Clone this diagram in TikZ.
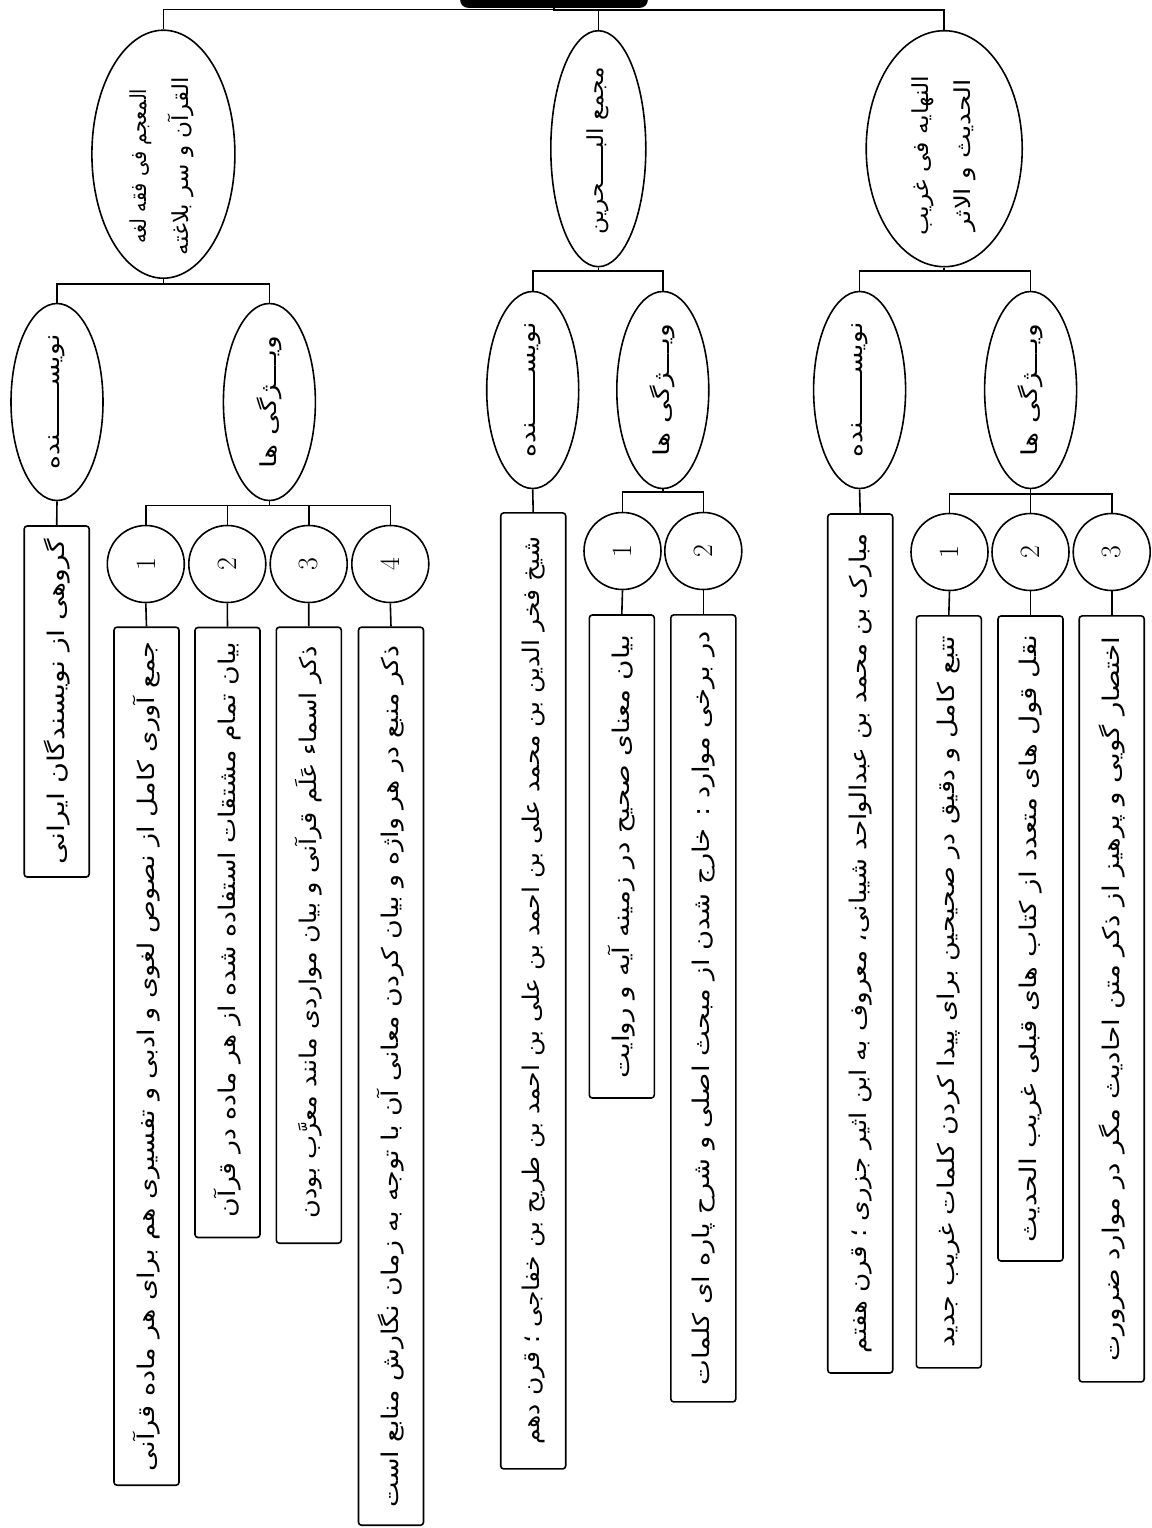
\documentclass[tikz,border=0pt]{standalone}
\usepackage{fontspec}
\usepackage{graphicx}
\newfontfamily\arabicfont[Script=Arabic]{DejaVu Sans}
\TeXXeTstate=1
\usetikzlibrary{shapes.geometric}
\newlength\arw
% #2 is given as \beginR ... \endR
\newcommand\fitar[2]{\settowidth\arw{{\arabicfont #2}}\pgfmathsetmacro\arf{#1/\the\arw}\scalebox{\arf}[1]{{\arabicfont #2}}}
\newcommand\fsT{\fontsize{23}{40}\selectfont}
\newcommand\fsE{\fontsize{22}{42}\selectfont}
\newcommand\fsN{\fontsize{28}{30}\selectfont}
\tikzset{
  conn/.style={line width=1.6pt},
  rootbox/.style={draw, fill=black, rounded corners=7pt, line width=1.6pt},
  ell/.style={draw, ellipse, line width=1.6pt, inner sep=0pt},
  numell/.style={draw, ellipse, line width=1.6pt, inner sep=0pt, minimum width=77pt, minimum height=77pt},
  tbox/.style={draw, rectangle, rounded corners=3pt, line width=1.6pt, inner sep=0pt, minimum width=65pt},
  lbl/.style={rotate=90, inner sep=0pt, font=\fsT, align=center},
  elbl/.style={rotate=90, inner sep=0pt, font=\fsE, align=center},
  nlbl/.style={rotate=90, inner sep=0pt, font=\fsN}
}
\begin{document}
\begin{tikzpicture}[x=1pt,y=-1pt]
\useasboundingbox (0,0) rectangle (1151,1528);
% root
\node[rootbox, minimum width=186pt, minimum height=60pt] (root) at (554,-23) {};
% level 1
\node[ell, minimum width=143pt, minimum height=248pt] (A) at (163.4,154.2) {};
\node[ell, minimum width=95pt, minimum height=236pt] (B) at (598.3,148.7) {};
\node[ell, minimum width=156pt, minimum height=236pt] (C) at (944.2,148.7) {};
\node[elbl] (At) at ([xshift=-2pt,yshift=-12pt]A.center) {\fitar{155pt}{\beginR المعجم فی فقه لغه\endR}\\\fitar{178pt}{\beginR القرآن و سر بلاغته\endR}};
\node[elbl] (Bt) at ([yshift=-2pt]B.center) {\fitar{168pt}{\beginR مجمع البـــــحرین\endR}};
\node[elbl] (Ct) at ([yshift=-7pt]C.center) {\fitar{160pt}{\beginR النهایه فی غریب\endR}\\\fitar{152pt}{\beginR الحدیث و الاثر\endR}};
% level 2
\node[ell, minimum width=92pt, minimum height=197pt] (A1) at (57,402) {};
\node[ell, minimum width=92pt, minimum height=197pt] (A2) at (269.4,402) {};
\node[ell, minimum width=92pt, minimum height=197pt] (B1) at (532.7,390) {};
\node[ell, minimum width=92pt, minimum height=197pt] (B2) at (662.8,390) {};
\node[ell, minimum width=92pt, minimum height=197pt] (C1) at (859.6,390) {};
\node[ell, minimum width=92pt, minimum height=197pt] (C2) at (1030.6,390) {};
\node[elbl] (A1t) at (A1.center) {\fitar{135pt}{\beginR نویســــــنده\endR}};
\node[elbl] (A2t) at (A2.center) {\fitar{133pt}{\beginR ویـــژگی ها\endR}};
\node[elbl] (B1t) at (B1.center) {\fitar{135pt}{\beginR نویســــــنده\endR}};
\node[elbl] (B2t) at (B2.center) {\fitar{133pt}{\beginR ویـــژگی ها\endR}};
\node[elbl] (C1t) at (C1.center) {\fitar{135pt}{\beginR نویســــــنده\endR}};
\node[elbl] (C2t) at (C2.center) {\fitar{133pt}{\beginR ویـــژگی ها\endR}};
% number circles
\node[numell] (An1) at (145.8,564) {};
\node[numell] (An2) at (227.3,564) {};
\node[numell] (An3) at (308.7,564) {};
\node[numell] (An4) at (390.3,564) {};
\node[numell] (Bn1) at (622.5,551) {};
\node[numell] (Bn2) at (703.3,551) {};
\node[numell] (Cn1) at (949.5,552) {};
\node[numell] (Cn2) at (1030.5,552) {};
\node[numell] (Cn3) at (1111.7,552) {};
\foreach \n/\d in {An1/1,An2/2,An3/3,An4/4,Bn1/1,Bn2/2,Cn1/1,Cn2/2,Cn3/3}
  \node[nlbl] (\n-t) at (\n.center) {\d};
% boxes
\node[tbox, minimum height=351pt] (Aa) at (56.7,701.5) {};
\node[tbox, minimum height=858pt] (Ab1) at (146.5,1056.2) {};
\node[tbox, minimum height=610pt] (Ab2) at (227.5,932.5) {};
\node[tbox, minimum height=616pt] (Ab3) at (308.8,935.2) {};
\node[tbox, minimum height=898pt] (Ab4) at (391,1076.2) {};
\node[tbox, minimum height=956pt] (Ba) at (533.2,990.9) {};
\node[tbox, minimum height=483pt] (Bb1) at (621.8,856.5) {};
\node[tbox, minimum height=787pt] (Bb2) at (703.3,1008.4) {};
\node[tbox, minimum height=859pt] (Ca) at (860.2,943.5) {};
\node[tbox, minimum height=752pt] (Cb1) at (948.8,991.9) {};
\node[tbox, minimum height=645pt] (Cb2) at (1030.5,938.5) {};
\node[tbox, minimum height=766pt] (Cb3) at (1111.7,998.9) {};
\node[lbl] (Aat) at (Aa.center) {\fitar{325pt}{\beginR گروهی از نویسندگان ایرانی\endR}};
\node[lbl] (Ab1t) at (Ab1.center) {\fitar{830pt}{\beginR جمع آوری کامل از نصوص لغوی و ادبی و تفسیری هم برای هر ماده قرآنی\endR}};
\node[lbl] (Ab2t) at ([yshift=3pt]Ab2.center) {\fitar{575pt}{\beginR بیان تمام مشتقات استفاده شده از هر ماده در قرآن\endR}};
\node[lbl] (Ab3t) at ([yshift=3pt]Ab3.center) {\fitar{572pt}{\beginR ذکر اسماء عَلَم قرآنی و بیان مواردی مانند معرَّب بودن\endR}};
\node[lbl] (Ab4t) at (Ab4.center) {\fitar{862pt}{\beginR ذکر منبع در هر واژه و بیان کردن معانی آن با توجه به زمان نگارش منابع است\endR}};
\node[lbl] (Bat) at (Ba.center) {\fitar{908pt}{\beginR شیخ فخر الدین بن محمد علی بن احمد بن علی بن احمد بن طریح بن خفاجی ؛ قرن دهم\endR}};
\node[lbl] (Bb1t) at (Bb1.center) {\fitar{443pt}{\beginR بیان معنای صحیح در زمینه آیه و روایت\endR}};
\node[lbl] (Bb2t) at (Bb2.center) {\fitar{754pt}{\beginR در برخی موارد : خارج شدن از مبحث اصلی و شرح پاره ای کلمات\endR}};
\node[lbl] (Cat) at (Ca.center) {\fitar{819pt}{\beginR مبارک بن محمد بن عبدالواحد شیبانی، معروف به ابن اثیر جزری ؛ قرن هفتم\endR}};
\node[lbl] (Cb1t) at (Cb1.center) {\fitar{712pt}{\beginR تتبع کامل و دقیق در صحیحین برای پیدا کردن کلمات غریب جدید\endR}};
\node[lbl] (Cb2t) at (Cb2.center) {\fitar{607pt}{\beginR نقل قول های متعدد از کتاب های قبلی غریب الحدیث\endR}};
\node[lbl] (Cb3t) at (Cb3.center) {\fitar{725pt}{\beginR اختصار گویی و پرهیز از ذکر متن احادیث مگر در موارد ضرورت\endR}};
% connectors
\foreach \c in {A,B,C}
  \draw[conn] (root.south) |- ([yshift=19.7pt]\c.north) -- (\c.north);
\foreach \c in {A1,A2}
  \draw[conn] (A.south) |- ([yshift=19pt]\c.north) -- (\c.north);
\foreach \c in {B1,B2}
  \draw[conn] (B.south) |- ([yshift=20pt]\c.north) -- (\c.north);
\foreach \c in {C1,C2}
  \draw[conn] (C.south) |- ([yshift=20pt]\c.north) -- (\c.north);
\foreach \c in {An1,An2,An3,An4}
  \draw[conn] (A2.south) |- ([yshift=19.3pt]\c.north) -- (\c.north);
\foreach \c in {Bn1,Bn2}
  \draw[conn] (B2.south) |- ([yshift=20pt]\c.north) -- (\c.north);
\foreach \c in {Cn1,Cn2,Cn3}
  \draw[conn] (C2.south) |- ([yshift=18.7pt]\c.north) -- (\c.north);
\draw[conn] (A1.south) -- (Aa.north);
\draw[conn] (B1.south) -- (Ba.north);
\draw[conn] (C1.south) -- (Ca.north);
\foreach \n/\b in {An1/Ab1,An2/Ab2,An3/Ab3,An4/Ab4,Bn1/Bb1,Bn2/Bb2,Cn1/Cb1,Cn2/Cb2,Cn3/Cb3}
  \draw[conn] (\n.south) -- (\b.north);
\end{tikzpicture}
\end{document}
